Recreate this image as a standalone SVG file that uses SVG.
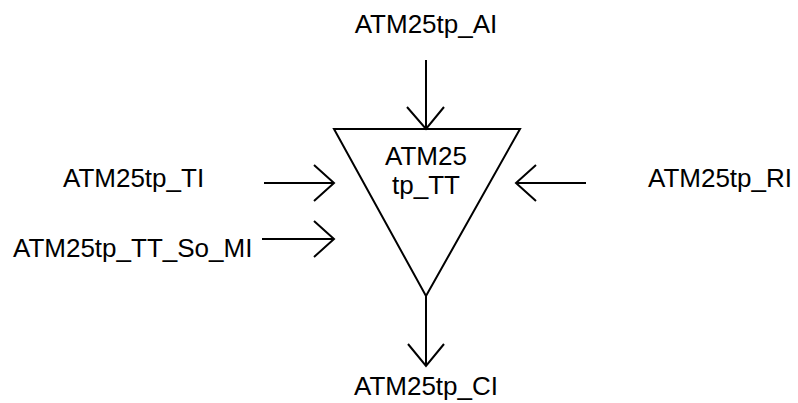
<svg xmlns="http://www.w3.org/2000/svg" width="798" height="403" viewBox="0 0 798 403">
<style>
text { font-family: "Liberation Sans", Arial, sans-serif; font-size: 26px; fill: #000; }
.ln { stroke: #000; stroke-width: 2; fill: none; }
</style>
<rect width="798" height="403" fill="#fff"/>
<g id="node-tt">
<polygon class="ln" points="334,129 520,129 426,296"/>
<text x="426" y="165" text-anchor="middle">ATM25</text>
<text x="426" y="194" text-anchor="middle">tp_TT</text>
</g>
<g id="label-ai"><text x="426" y="33" text-anchor="middle">ATM25tp_AI</text></g>
<g id="label-ti"><text x="63" y="187">ATM25tp_TI</text></g>
<g id="label-mi"><text x="13" y="257">ATM25tp_TT_So_MI</text></g>
<g id="label-ri"><text x="648" y="187">ATM25tp_RI</text></g>
<g id="label-ci"><text x="426" y="395" text-anchor="middle">ATM25tp_CI</text></g>
<g id="connectors">
<path class="ln" d="M426,60 V129 M407,107 L426,129 L444,107"/>
<path class="ln" d="M264,183 H334 M314,165 L334,183 L314,201"/>
<path class="ln" d="M262,239 H334 M314,221 L334,239 L314,257"/>
<path class="ln" d="M586,183 H516 M536,165 L516,183 L536,201"/>
<path class="ln" d="M426,296 V366 M408,344 L426,366 L444,344"/>
</g>
</svg>
